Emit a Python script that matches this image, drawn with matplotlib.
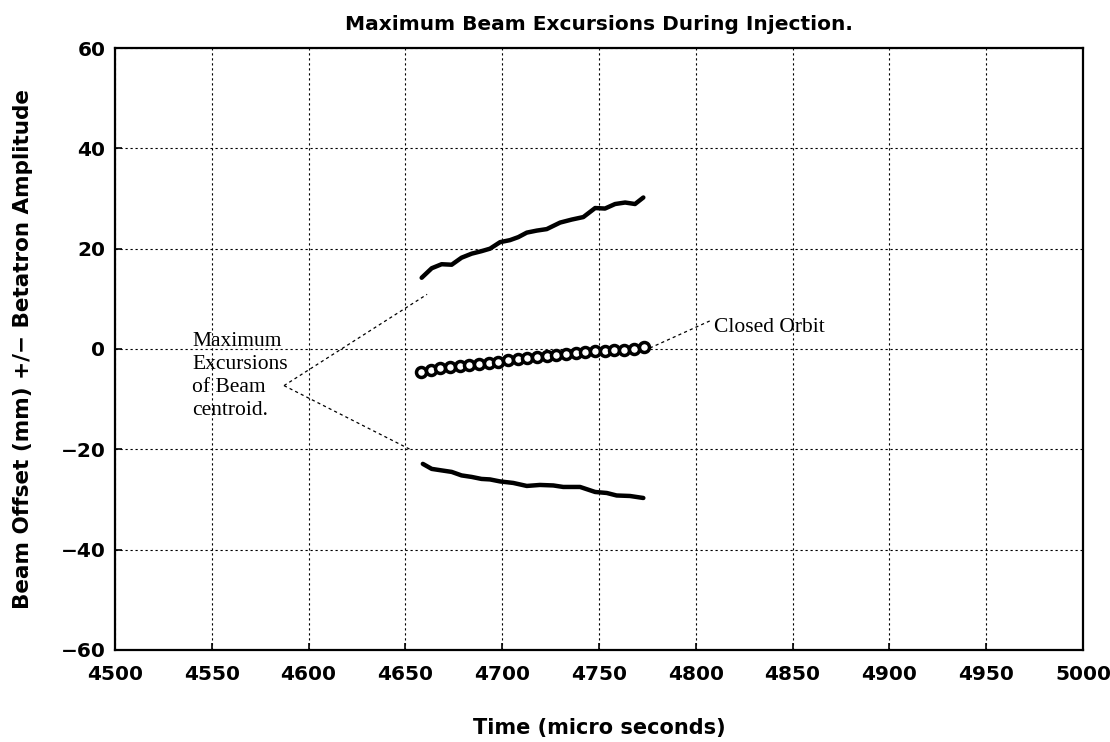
import matplotlib
matplotlib.use("Agg")
import matplotlib.pyplot as plt

# Upper envelope (maximum excursion, positive side)
upper_t = [4658.4, 4663.6, 4668.7, 4673.9, 4679.0, 4684.2, 4689.3, 4693.7, 4698.9, 4704.0,
           4708.3, 4712.7, 4717.8, 4723.0, 4729.9, 4735.9, 4741.9, 4748.0, 4753.1, 4758.3,
           4763.5, 4768.6, 4772.9]
upper_y = [14.2, 16.1, 16.9, 16.8, 18.2, 19.0, 19.5, 20.0, 21.3, 21.7,
           22.3, 23.2, 23.6, 23.9, 25.2, 25.8, 26.3, 28.1, 28.0, 28.9,
           29.2, 28.9, 30.2]

# Lower envelope (maximum excursion, negative side)
lower_t = [4659.0, 4663.6, 4668.7, 4673.9, 4679.0, 4684.2, 4689.3, 4693.7, 4698.9, 4705.7,
           4712.7, 4719.5, 4726.4, 4731.5, 4740.2, 4748.0, 4754.0, 4759.1, 4766.0, 4772.9]
lower_y = [-22.9, -23.9, -24.2, -24.5, -25.2, -25.5, -25.9, -26.0, -26.4, -26.7,
           -27.3, -27.1, -27.2, -27.5, -27.5, -28.5, -28.7, -29.2, -29.3, -29.7]

# Closed orbit points
orbit_t = [4658, 4663, 4668, 4673, 4678, 4683, 4688, 4693, 4698, 4703, 4708, 4713,
           4718, 4723, 4728, 4733, 4738, 4743, 4748, 4753, 4758, 4763, 4768, 4773]
orbit_y = [-4.6, -4.1, -3.8, -3.6, -3.4, -3.1, -2.9, -2.7, -2.5, -2.2, -1.9, -1.7,
           -1.5, -1.3, -1.1, -0.9, -0.7, -0.6, -0.4, -0.3, -0.1, -0.1, 0.0, 0.3]

x_ticks = [4500, 4550, 4600, 4650, 4700, 4750, 4800, 4850, 4900, 4950, 5000]
y_ticks = [-60, -40, -20, 0, 20, 40, 60]

# Annotation leader lines (text anchor -> target)
excursion_anchor = (4587.3, -7.3)
excursion_targets = [(4661.2, 10.9), (4653.4, -20.2)]
orbit_anchor = (4776.3, 0.2)
orbit_label_pos = (4808.4, 5.8)

fig = plt.figure(figsize=(11.1, 7.42), dpi=100)
ax = fig.add_axes([0.1036, 0.124, 0.8721, 0.8113])

ax.plot(upper_t, upper_y, color="black", lw=3.2, solid_capstyle="round", solid_joinstyle="round")
ax.plot(lower_t, lower_y, color="black", lw=3.2, solid_capstyle="round", solid_joinstyle="round")
ax.plot(orbit_t, orbit_y, linestyle="none", marker="o", markersize=7.2,
        markerfacecolor="white", markeredgecolor="black", markeredgewidth=2.5)

leader_style = dict(color="black", lw=0.9, linestyle=(0, (2.5, 2.5)))
for tgt in excursion_targets:
    ax.plot([excursion_anchor[0], tgt[0]], [excursion_anchor[1], tgt[1]], **leader_style)
ax.plot([orbit_anchor[0], orbit_label_pos[0]], [orbit_anchor[1], orbit_label_pos[1]], **leader_style)

serif = ["Liberation Serif", "DejaVu Serif"]
ax.text(4540, 3.4, "Maximum\nExcursions\nof Beam\ncentroid.", family=serif, fontsize=15.5,
        ha="left", va="top", linespacing=1.28)
ax.text(orbit_label_pos[0] + 1.0, 4.3, "Closed Orbit", family=serif, fontsize=15.5,
        ha="left", va="center")

ax.set_xlim(4500, 5000)
ax.set_ylim(-60, 60)
ax.set_xticks(x_ticks)
ax.set_yticks(y_ticks)
ax.grid(True, color="black", lw=0.8, linestyle=(0, (2, 2.5)))
ax.tick_params(direction="in", length=5, width=1.2, labelsize=14.5)
ax.tick_params(axis="x", pad=11)
ax.tick_params(axis="y", pad=7)
for lab in ax.get_xticklabels() + ax.get_yticklabels():
    lab.set_fontweight("bold")
for s in ax.spines.values():
    s.set_linewidth(1.6)

ax.set_title("Maximum Beam Excursions During Injection.", fontsize=14.5, fontweight="bold", pad=13)
ax.set_xlabel("Time (micro seconds)", fontsize=15, fontweight="bold", labelpad=24)
ax.set_ylabel("Beam Offset (mm) +/\u2212 Betatron Amplitude", fontsize=15.5, fontweight="bold", labelpad=20)

fig.savefig("out.png", dpi=100)
